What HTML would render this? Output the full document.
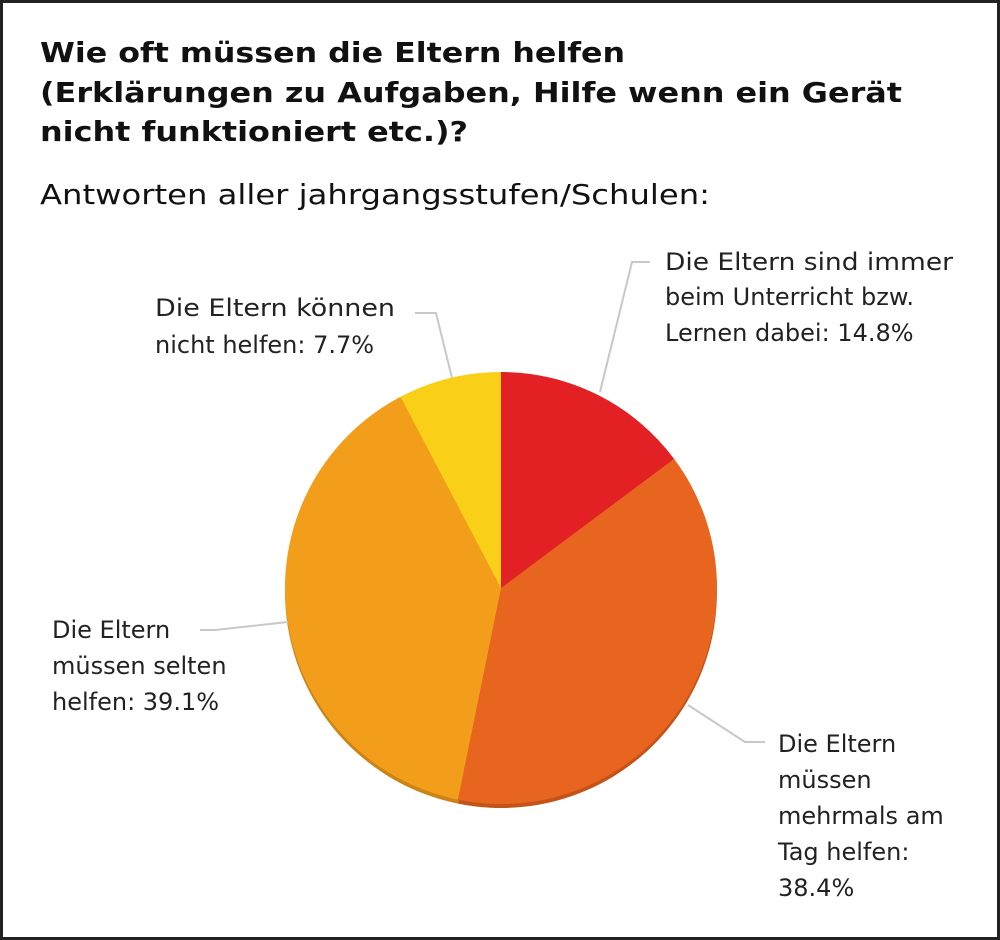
<!DOCTYPE html>
<html><head><meta charset="utf-8">
<style>
html,body{margin:0;padding:0;background:#fff;}
svg{display:block;font-family:"DejaVu Sans","Liberation Sans",sans-serif;}
</style></head>
<body>
<svg width="1000" height="940" viewBox="0 0 1000 940">
<rect x="1.5" y="1.5" width="997" height="937" fill="#fff" stroke="#222" stroke-width="3"/>
<g font-weight="bold" font-size="28" fill="#111">
<text x="40" y="62" textLength="585" lengthAdjust="spacingAndGlyphs">Wie oft müssen die Eltern helfen</text>
<text x="40" y="102" textLength="862" lengthAdjust="spacingAndGlyphs">(Erklärungen zu Aufgaben, Hilfe wenn ein Gerät</text>
<text x="40" y="141" textLength="428" lengthAdjust="spacingAndGlyphs">nicht funktioniert etc.)?</text>
</g>
<text x="40" y="204" font-size="28" fill="#111" textLength="670" lengthAdjust="spacingAndGlyphs">Antworten aller jahrgangsstufen/Schulen:</text>
<g id="pie"></g>
<g stroke="#c8c8c8" stroke-width="2" fill="none">
<polyline points="600,392 632,262 650,262"/>
<polyline points="452,378 436,313 415,313"/>
<polyline points="288,622 215,630 200,630"/>
<polyline points="688,705 745,742 765,742"/>
</g>
<g font-size="24" fill="#222">
<g><text x="665" y="270" textLength="288" lengthAdjust="spacingAndGlyphs">Die Eltern sind immer</text><text x="665" y="305">beim Unterricht bzw.</text><text x="665" y="341">Lernen dabei: 14.8%</text></g>
<g><text x="155" y="316" textLength="240" lengthAdjust="spacingAndGlyphs">Die Eltern können</text><text x="155" y="353">nicht helfen: 7.7%</text></g>
<g><text x="52" y="638">Die Eltern</text><text x="52" y="674">müssen selten</text><text x="52" y="710">helfen: 39.1%</text></g>
<g><text x="778" y="752">Die Eltern</text><text x="778" y="788">müssen</text><text x="778" y="824">mehrmals am</text><text x="778" y="860">Tag helfen:</text><text x="778" y="896">38.4%</text></g>
</g>
</svg>
<script>
const categories = ["Immer dabei","Mehrmals am Tag","Selten","Nicht helfen"];
const values = [14.8, 38.4, 39.1, 7.7];
const colors = ["#e32024","#e8651f","#f39e1b","#f9cf18"];
const shades = ["#b8191c","#c4531a","#cc8416","#d1ad14"];
const cx = 501, cy = 588, r = 216;
const g = document.getElementById('pie');
const total = values.reduce((a,b)=>a+b,0);
function pt(a, rr, dy){ return [cx + rr*Math.sin(a), cy + (dy||0) - rr*Math.cos(a)]; }
function arcPath(a0,a1,dy){
  const p0 = pt(a0,r,dy), p1 = pt(a1,r,dy);
  const large = (a1-a0) > Math.PI ? 1 : 0;
  return `M${cx},${cy+(dy||0)} L${p0[0]},${p0[1]} A${r},${r} 0 ${large} 1 ${p1[0]},${p1[1]} Z`;
}
let a = 0;
values.forEach((v,i)=>{
  const a1 = a + v/total*2*Math.PI;
  const s = document.createElementNS('http://www.w3.org/2000/svg','path');
  s.setAttribute('d', arcPath(a,a1,4));
  s.setAttribute('fill', shades[i]);
  
  
  g.appendChild(s);
  a = a1;
});
a = 0;
values.forEach((v,i)=>{
  const a1 = a + v/total*2*Math.PI;
  const p = document.createElementNS('http://www.w3.org/2000/svg','path');
  p.setAttribute('d', arcPath(a,a1,0));
  p.setAttribute('fill', colors[i]);
  
  
  g.appendChild(p);
  a = a1;
});
</script>
</body></html>
